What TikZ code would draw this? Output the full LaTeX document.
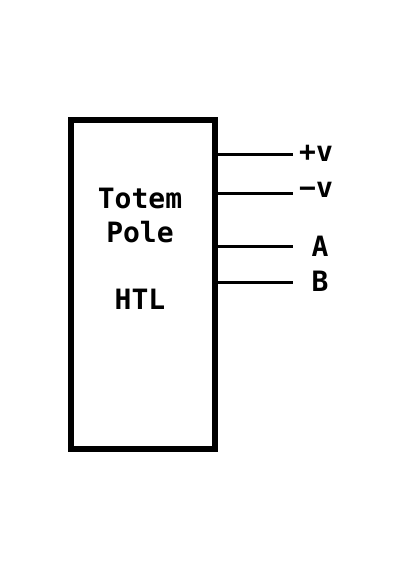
\documentclass[tikz,border=0pt]{standalone}
\usepackage{fontspec}
\setmonofont{DejaVu Sans Mono}

\begin{document}
\begin{tikzpicture}[x=1pt, y=-1pt,
  every node/.style={font=\ttfamily\bfseries\fontsize{28}{34}\selectfont},
  block/.style={draw, line width=6pt, minimum width=144pt, minimum height=329pt, inner sep=0pt},
  wire/.style={line width=3pt}]
\useasboundingbox (0,0) rectangle (400,570);

% Block
\node[block] (pole) at (143,284.5) {};
\node[align=center] (name) at (140,215) {Totem\\Pole};
\node (htl) at (140,299) {HTL};

% Pins
\node (pv) at (316,153) {+v};
\node (mv) at (316,190) {\symbol{"2212}v};
\node (a) at (320,246) {A};
\node (b) at (320,281) {B};

\coordinate (pvend) at (293,154);
\coordinate (mvend) at (293,193);
\coordinate (aend) at (293,246);
\coordinate (bend) at (293,282);

% Wires
\draw[wire] (pole.east |- pvend) -- (pvend);
\draw[wire] (pole.east |- mvend) -- (mvend);
\draw[wire] (pole.east |- aend) -- (aend);
\draw[wire] (pole.east |- bend) -- (bend);
\end{tikzpicture}
\end{document}
